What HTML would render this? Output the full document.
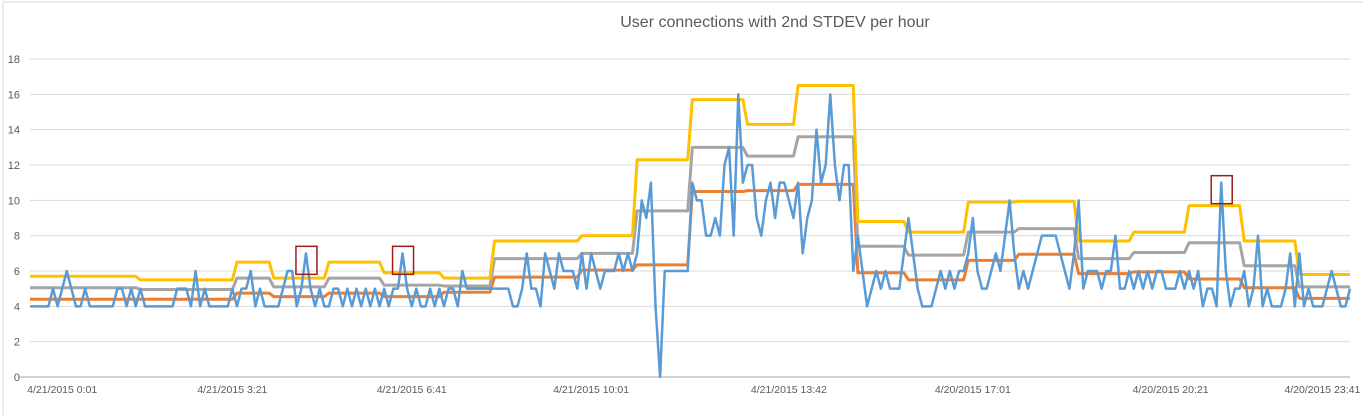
<!DOCTYPE html>
<html><head><meta charset="utf-8">
<style>
body{margin:0;background:#fff;}
svg{display:block;font-family:"Liberation Sans",sans-serif;}
</style></head>
<body>
<svg id="chart" width="1363" height="415" viewBox="0 0 1363 415" xmlns="http://www.w3.org/2000/svg">
<rect x="3" y="2" width="1380" height="430" fill="none" stroke="#d9d9d9" stroke-width="1"/>
<text x="775" y="27" text-anchor="middle" font-size="16" fill="#595959">User connections with 2nd STDEV per hour</text>
<g id="grid"></g>
<g id="yaxis"></g>
<g id="xaxis"></g>
<g id="series"></g>
<g id="annot"></g>
</svg>
<script>
const yTicks=[0,2,4,6,8,10,12,14,16,18];
const xLabels=["4/21/2015 0:01","4/21/2015 3:21","4/21/2015 6:41","4/21/2015 10:01","4/21/2015 13:42","4/20/2015 17:01","4/20/2015 20:21","4/20/2015 23:41"];
const xLabelIdx=[7,44,83,122,165,205,248,281];
const connections=[4,4,4,4,4,5,4,5,6,5,4,4,5,4,4,4,4,4,4,5,5,4,5,4,5,
4,4,4,4,4,4,4,5,5,5,4,6,4,5,4,4,4,4,4,5,4,5,5,6,4,5,4,4,4,4,5,6,6,4,5,
7,5,4,5,4,4,5,5,4,5,4,5,4,5,4,5,4,5,4,5,5,7,5,4,5,4,4,5,4,5,4,5,5,4,6,
5,5,5,5,5,5,5,5,5,5,4,4,5,7,5,5,4,7,6,5,7,6,6,6,5,7,5,7,6,5,6,6,6,7,6,
7,6,7,10,9,11,4,0,6,6,6,6,6,6,11,10,10,8,8,9,8,12,13,8,16,11,12,12,9,8,
10,11,9,11,11,10,9,11,7,9,10,14,11,12,16,12,10,12,12,6,8,6,4,5,6,5,6,5,5,
5,7,9,7,5,4,4,4,5,6,5,6,5,6,6,7,9,6,5,5,6,7,6,8,10,7,5,6,5,6,7,8,8,8,8,
7,6,5,7,10,5,6,6,6,5,6,6,8,5,5,6,5,6,5,6,5,6,6,5,5,5,6,5,6,5,6,4,5,5,4,
11,6,4,5,5,6,4,5,8,4,5,4,4,4,5,7,4,7,4,5,4,4,4,5,6,5,4,4,5];
const blockStart=[0,24,45,53,65,77,90,101,120,132,144,156,167,180,191,204,215,228,240,252,264,276];
const upper2sd=[5.7,5.5,6.5,5.6,6.5,5.9,5.6,7.7,8.0,12.3,15.7,14.3,16.5,8.8,8.2,9.9,9.95,7.7,8.2,9.7,7.7,5.8];
const upper1sd=[5.05,4.95,5.6,5.1,5.6,5.2,5.15,6.7,7.0,9.4,13.0,12.5,13.6,7.4,6.9,8.2,8.4,6.7,7.05,7.6,6.3,5.1];
const meanLine=[4.4,4.4,4.75,4.55,4.75,4.55,4.8,5.65,6.05,6.35,10.5,10.55,10.9,5.9,5.5,6.6,6.95,5.85,5.95,5.55,5.05,4.45];
const annotIdx=[60,81,259];

const NS="http://www.w3.org/2000/svg";
const X0=30,X1=1350,Y0=377,Y18=59;
const N=connections.length;
function xs(i){return X0+i*(X1-X0)/(N-1);}
function ys(v){return Y0-v*(Y0-Y18)/18;}
function mk(t,a,p){const e=document.createElementNS(NS,t);for(const k in a)e.setAttribute(k,a[k]);p.appendChild(e);return e;}
const grid=document.getElementById('grid'),ya=document.getElementById('yaxis'),xa=document.getElementById('xaxis'),ser=document.getElementById('series'),an=document.getElementById('annot');
yTicks.forEach(v=>{
 if(v>0){const g=mk('line',{x1:X0,x2:X1,y1:ys(v),y2:ys(v),stroke:'#d9d9d9','stroke-width':1},grid);
 
 }
 const t=mk('text',{x:20,y:ys(v)+4,'text-anchor':'end','font-size':11,fill:'#595959'},ya);
 t.textContent=v;
 
 
});
const ax=mk('line',{x1:X0-12,x2:X1,y1:Y0,y2:Y0,stroke:'#a6a6a6','stroke-width':1},xa);


xLabels.forEach((s,k)=>{
 const t=mk('text',{x:xs(xLabelIdx[k]),y:393,'text-anchor':'middle','font-size':10.5,fill:'#595959'},xa);
 t.textContent=s;
 
 
});
function stepPts(vals){
 let pts=[];
 for(let b=0;b<blockStart.length;b++){
  const s=blockStart[b],e=(b+1<blockStart.length?blockStart[b+1]-1:N-1);
  pts.push(xs(s)+','+ys(vals[b]));pts.push(xs(e)+','+ys(vals[b]));
 }
 return pts.join(' ');
}
[[meanLine,'#ed7d31','mean-line'],[upper1sd,'#a5a5a5','first-stdev-line'],[upper2sd,'#ffc000','second-stdev-line']].forEach(d=>{
 const p=mk('polyline',{points:stepPts(d[0]),fill:'none',stroke:d[1],'stroke-width':3,'stroke-linejoin':'round'},ser);
 
 
});
const bl=mk('polyline',{points:connections.map((v,i)=>xs(i)+','+ys(v)).join(' '),fill:'none',stroke:'#5b9bd5','stroke-width':2.5,'stroke-linejoin':'round'},ser);


annotIdx.forEach(i=>{
 const cx=xs(i),cy=ys(connections[i]);
 const r=mk('rect',{x:cx-10,y:cy-7,width:21,height:28,fill:'none',stroke:'#9e1b1b','stroke-width':1.5},an);
 
 
});
</script>
</body></html>
